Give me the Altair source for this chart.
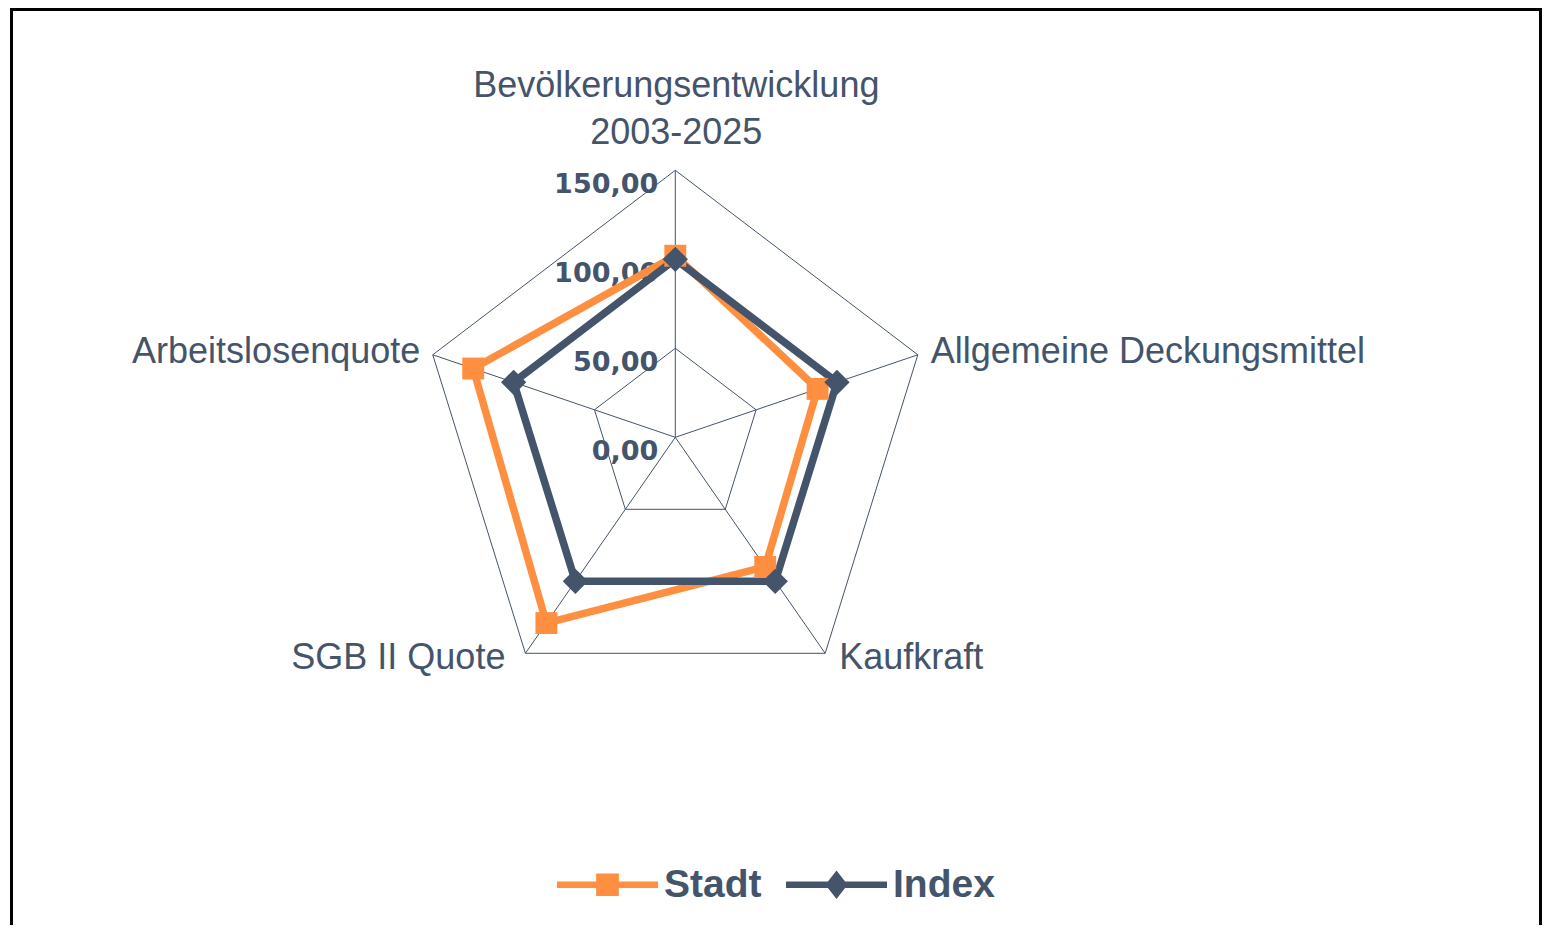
import altair as alt
import pandas as pd

# ---------------- data ----------------
categories = [
    "Bevölkerungsentwicklung\n2003-2025",
    "Allgemeine Deckungsmittel",
    "Kaufkraft",
    "SGB II Quote",
    "Arbeitslosenquote",
]
stadt_values = [102, 88, 90, 129, 125]
index_values = [100, 100, 100, 100, 100]
series_names = ["Stadt", "Index"]
ring_values = [0, 50, 100, 150]
grid_max = 150

# ---------------- style / layout ----------------
ORANGE = "#FF8F40"
DARK = "#44546A"
GRID = "#44546A"
W, H = 1534, 917
KX, KY = 1.70, 1.78          # pixels per data unit
CX, CY = 667.3, 429.3        # centre of the radar in plot pixels
xdom = [-CX / KX, (W - CX) / KX]
ydom = [-(H - CY) / KY, CY / KY]

N = len(categories)
rows = []
for s, vals in zip(series_names, [stadt_values, index_values]):
    for k in range(N + 1):
        i = k % N
        rows.append({"series": s, "i": i, "order": k, "value": vals[i]})
series_df = pd.DataFrame(rows)

grid_df = pd.DataFrame(
    [{"ring": r, "i": k % N, "order": k} for r in ring_values[1:] for k in range(N + 1)]
)
spoke_df = pd.DataFrame({"i": list(range(N)), "ring": [grid_max] * N})
tick_df = pd.DataFrame({"ring": ring_values})
label_df = pd.DataFrame({"i": list(range(N)), "cat": categories, "ring": [grid_max] * N})

ANG = f"datum.i * 2 * PI / {N}"
X = alt.X("x:Q", scale=alt.Scale(domain=xdom, nice=False, zero=False), axis=None)
Y = alt.Y("y:Q", scale=alt.Scale(domain=ydom, nice=False, zero=False), axis=None)


def polar(chart, rfield):
    return chart.transform_calculate(
        x=f"datum.{rfield} * sin({ANG})", y=f"datum.{rfield} * cos({ANG})"
    )


grid = polar(alt.Chart(grid_df), "ring").mark_line(color=GRID, strokeWidth=1).encode(
    x=X, y=Y, detail="ring:N", order="order:Q"
)

spokes = (
    polar(alt.Chart(spoke_df), "ring")
    .transform_calculate(x0="0", y0="0")
    .mark_rule(color=GRID, strokeWidth=1)
    .encode(
        x=alt.X("x0:Q", scale=alt.Scale(domain=xdom, nice=False, zero=False), axis=None),
        y=alt.Y("y0:Q", scale=alt.Scale(domain=ydom, nice=False, zero=False), axis=None),
        x2="x:Q",
        y2="y:Q",
    )
)

ticks = (
    alt.Chart(tick_df)
    .transform_calculate(
        x="0", y="datum.ring", label="replace(format(datum.ring, '.2f'), '.', ',')"
    )
    .mark_text(
        align="right", baseline="middle", dx=-17, dy=15,
        font="DejaVu Sans", fontSize=27, fontWeight="bold", color=DARK,
    )
    .encode(x=X, y=Y, text="label:N")
)

label_specs = [
    dict(align="center", dx=1, dy=-73),
    dict(align="left", dx=13, dy=8),
    dict(align="left", dx=14, dy=15.5),
    dict(align="right", dx=-20, dy=15.5),
    dict(align="right", dx=-12.5, dy=8),
]
labels = []
for i, spec in enumerate(label_specs):
    labels.append(
        polar(alt.Chart(label_df).transform_filter(f"datum.i == {i}"), "ring")
        .mark_text(
            baseline="alphabetic", lineBreak="\n", lineHeight=47,
            font="Liberation Sans", fontSize=36, color=DARK, **spec
        )
        .encode(x=X, y=Y, text="cat:N")
    )

lines = []
points = []
for s, c, shp, sz in [("Stadt", ORANGE, "square", 480), ("Index", DARK, "diamond", 640)]:
    base = polar(alt.Chart(series_df).transform_filter(f"datum.series == '{s}'"), "value")
    lines.append(
        base.mark_line(color=c, strokeWidth=7.5, strokeJoin="round").encode(
            x=X, y=Y, order="order:Q"
        )
    )
    points.append(
        base.transform_filter(f"datum.order < {N}")
        .mark_point(filled=True, shape=shp, size=sz, color=c, opacity=1)
        .encode(x=X, y=Y)
    )

P_STADT = "M-1,-0.065H1V0.065H-1Z M-0.225,-0.225H0.225V0.225H-0.225Z"
P_INDEX = "M-1,-0.065H1V0.065H-1Z M0,-0.28L0.22,0L0,0.28L-0.22,0Z"
leg = alt.Legend(
    title=None, orient="none", legendX=549, legendY=826, direction="horizontal",
    symbolSize=10201, symbolStrokeWidth=0, labelFont="Liberation Sans",
    labelFontSize=39, labelFontWeight="bold", labelColor=DARK, labelOffset=6,
    columnPadding=24, padding=0,
)
legend_layer = (
    polar(alt.Chart(series_df), "value")
    .transform_filter("false")
    .mark_point(filled=True, opacity=1)
    .encode(
        x=X, y=Y,
        color=alt.Color("series:N", scale=alt.Scale(domain=series_names, range=[ORANGE, DARK]), legend=leg),
        shape=alt.Shape("series:N", scale=alt.Scale(domain=series_names, range=[P_STADT, P_INDEX]), legend=leg),
    )
)

one = pd.DataFrame({"k": [0]})
frame_left = alt.Chart(one).mark_rule(color="black", strokeWidth=3).encode(
    x=alt.value(3.5), y=alt.value(0), y2=alt.value(H)
)
frame_top = alt.Chart(one).mark_rule(color="black", strokeWidth=3).encode(
    y=alt.value(1.5), x=alt.value(2), x2=alt.value(W)
)
frame_right = alt.Chart(one).mark_rule(color="black", strokeWidth=3).encode(
    x=alt.value(W - 1.5), y=alt.value(0), y2=alt.value(H)
)

chart = (
    alt.layer(
        grid, spokes, ticks, *labels, *lines, *points, legend_layer,
        frame_left, frame_top, frame_right,
    )
    .properties(width=W, height=H, padding=0, autosize=alt.AutoSizeParams(type="none"))
    .configure_view(stroke=None)
)

chart.save("out.html", embed_options={"renderer": "svg", "actions": False})
